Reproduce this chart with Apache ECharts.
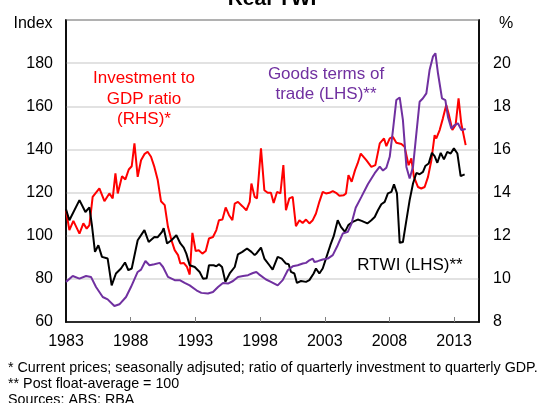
<!DOCTYPE html>
<html>
<head>
<meta charset="utf-8">
<script src="https://cdn.jsdelivr.net/npm/echarts@6/dist/echarts.min.js"></script>
<style>
  html, body { margin: 0; padding: 0; background: #fff; }
  #chart { width: 541px; height: 403px; }
</style>
</head>
<body>
<div id="chart"></div>
<script>
// x ticks / labels (years)
const yearLabels = [1983, 1988, 1993, 1998, 2003, 2008, 2013];
const yearTicks = [1988, 1993, 1998, 2003, 2008, 2013];

// Real TWI (LHS, index) - [year, value]
const rtwi = [
  [1983.0, 112.2], [1983.26, 107.2], [1984.04, 116.5], [1984.5, 111.0], [1984.81, 113.1],
  [1985.0, 105.0], [1985.24, 92.5], [1985.5, 95.6], [1985.78, 90.2], [1986.22, 89.4],
  [1986.53, 77.0], [1986.86, 82.5], [1987.25, 84.8], [1987.56, 87.6], [1987.82, 84.0],
  [1988.08, 84.8], [1988.54, 97.9], [1989.06, 102.6], [1989.39, 97.1], [1989.83, 99.4],
  [1990.09, 99.3], [1990.42, 101.8], [1990.55, 103.5], [1990.81, 96.4], [1991.15, 97.9],
  [1991.53, 100.2], [1991.84, 96.4], [1992.1, 94.5], [1992.3, 91.7], [1992.56, 86.3],
  [1992.95, 85.5], [1993.33, 83.2], [1993.59, 80.1], [1993.87, 80.3], [1994.05, 86.3],
  [1994.41, 86.3], [1994.62, 85.8], [1994.82, 86.8], [1995.06, 85.5], [1995.32, 78.6],
  [1995.65, 82.5], [1996.04, 85.5], [1996.29, 91.4], [1996.63, 92.5], [1996.99, 94.1],
  [1997.33, 92.5], [1997.58, 91.0], [1997.74, 91.9], [1998.07, 94.5], [1998.33, 89.4],
  [1998.72, 86.3], [1998.97, 84.3], [1999.36, 90.2], [1999.67, 89.4], [2000.0, 87.1],
  [2000.21, 86.8], [2000.39, 83.2], [2000.65, 82.5], [2000.85, 78.1], [2001.16, 79.0],
  [2001.55, 78.6], [2001.81, 79.4], [2002.14, 82.5], [2002.32, 84.8], [2002.58, 82.5],
  [2002.84, 84.8], [2003.09, 89.4], [2003.43, 95.6], [2003.69, 99.8], [2004.0, 107.2],
  [2004.25, 104.1], [2004.56, 101.8], [2004.82, 104.9], [2005.16, 106.4], [2005.55, 107.5],
  [2005.85, 106.9], [2006.29, 105.7], [2006.6, 107.2], [2006.86, 108.7], [2007.11, 111.8],
  [2007.37, 114.6], [2007.63, 115.7], [2007.88, 119.6], [2008.15, 120.3], [2008.35, 123.8],
  [2008.58, 119.6], [2008.79, 96.7], [2009.04, 97.1], [2009.31, 107.2], [2009.56, 116.5],
  [2009.82, 124.2], [2010.08, 129.1], [2010.33, 128.5], [2010.59, 129.6], [2010.77, 132.3],
  [2011.03, 133.5], [2011.28, 138.4], [2011.49, 136.9], [2011.7, 133.8], [2011.96, 138.4],
  [2012.21, 135.4], [2012.47, 138.9], [2012.73, 138.1], [2012.98, 140.5], [2013.25, 138.1],
  [2013.5, 127.6], [2013.81, 128.4]
];

// Goods terms of trade (LHS, index)
const termsOfTrade = [
  [1983.0, 78.6], [1983.52, 81.3], [1984.04, 80.1], [1984.55, 81.3], [1984.93, 80.9],
  [1985.32, 76.2], [1985.84, 71.6], [1986.22, 70.5], [1986.74, 67.4], [1987.13, 68.2],
  [1987.64, 71.6], [1988.02, 76.2], [1988.54, 83.2], [1988.8, 84.3], [1989.14, 88.3],
  [1989.45, 86.3], [1989.83, 86.8], [1990.24, 87.4], [1990.5, 85.5], [1990.88, 80.9],
  [1991.4, 79.4], [1991.79, 79.4], [1992.17, 78.1], [1992.56, 77.0], [1993.08, 74.7],
  [1993.46, 73.5], [1993.97, 73.2], [1994.36, 73.9], [1994.75, 76.2], [1995.13, 78.1],
  [1995.52, 77.8], [1995.91, 79.0], [1996.29, 80.9], [1996.68, 81.3], [1997.07, 81.7],
  [1997.45, 82.7], [1997.71, 83.2], [1997.92, 82.1], [1998.07, 81.7], [1998.46, 79.7],
  [1998.84, 78.6], [1999.36, 77.0], [1999.75, 79.4], [2000.14, 84.0], [2000.52, 85.8],
  [2000.91, 86.3], [2001.3, 87.1], [2001.55, 87.4], [2001.81, 88.6], [2002.07, 89.4],
  [2002.2, 87.8], [2002.45, 88.2], [2002.84, 89.0], [2003.23, 89.4], [2003.62, 91.0],
  [2004.0, 95.6], [2004.39, 101.0], [2004.78, 101.8], [2005.06, 105.5], [2005.39, 113.0],
  [2005.83, 118.0], [2006.34, 124.0], [2006.86, 129.0], [2007.25, 132.0], [2007.5, 130.2],
  [2007.76, 131.5], [2008.02, 136.6], [2008.27, 149.0], [2008.53, 162.9], [2008.79, 164.1],
  [2009.04, 153.6], [2009.31, 131.9], [2009.56, 126.5], [2009.82, 131.9], [2010.08, 147.4],
  [2010.33, 162.1], [2010.59, 163.7], [2010.85, 166.0], [2011.1, 176.8], [2011.36, 183.0],
  [2011.55, 184.6], [2011.75, 175.3], [2012.06, 163.7], [2012.32, 162.9], [2012.52, 155.1],
  [2012.78, 149.7], [2013.04, 151.3], [2013.29, 152.1], [2013.56, 149.0], [2013.89, 149.5]
];

// Investment to GDP ratio (RHS, per cent)
const investRatio = [
  [1983.0, 13.18], [1983.26, 12.26], [1983.57, 12.69], [1984.04, 12.10], [1984.34, 12.57],
  [1984.6, 12.33], [1984.81, 12.49], [1985.06, 13.80], [1985.58, 14.19], [1985.97, 13.60],
  [1986.35, 13.96], [1986.61, 13.73], [1986.82, 14.89], [1987.0, 13.96], [1987.33, 14.76],
  [1987.59, 14.61], [1987.85, 15.07], [1988.08, 15.22], [1988.29, 16.28], [1988.54, 14.73],
  [1988.8, 15.50], [1989.06, 15.78], [1989.31, 15.89], [1989.57, 15.66], [1989.83, 15.19],
  [1990.09, 14.58], [1990.34, 13.6], [1990.63, 13.42], [1990.88, 12.41], [1991.15, 11.79],
  [1991.4, 11.33], [1991.66, 11.1], [1991.84, 10.71], [1992.1, 10.74], [1992.35, 10.55],
  [1992.56, 10.2], [1992.77, 12.13], [1993.02, 11.29], [1993.26, 11.33], [1993.54, 11.17],
  [1993.8, 11.29], [1994.05, 11.87], [1994.36, 11.94], [1994.62, 12.26], [1994.82, 12.72],
  [1995.09, 12.75], [1995.34, 13.31], [1995.6, 12.95], [1995.86, 12.72], [1996.04, 13.49],
  [1996.29, 13.57], [1996.63, 13.37], [1996.94, 13.18], [1997.2, 13.57], [1997.33, 14.42],
  [1997.58, 13.8], [1997.76, 13.73], [1998.07, 16.05], [1998.33, 14.11], [1998.59, 13.99],
  [1998.84, 13.99], [1999.05, 13.52], [1999.31, 14.03], [1999.57, 13.96], [1999.8, 15.27],
  [2000.0, 13.18], [2000.26, 13.73], [2000.52, 13.8], [2000.77, 12.44], [2001.04, 12.72],
  [2001.29, 12.59], [2001.55, 12.75], [2001.81, 12.57], [2002.07, 12.72], [2002.32, 13.03],
  [2002.58, 13.57], [2002.84, 14.03], [2003.09, 13.96], [2003.36, 13.99], [2003.62, 14.07],
  [2003.87, 13.99], [2004.13, 13.85], [2004.47, 13.88], [2004.64, 13.96], [2004.83, 14.81],
  [2005.08, 14.50], [2005.34, 15.04], [2005.54, 15.35], [2005.78, 15.81], [2006.21, 15.50],
  [2006.6, 15.19], [2006.91, 15.27], [2007.25, 16.28], [2007.58, 16.51], [2007.76, 16.15],
  [2008.02, 16.51], [2008.27, 16.58], [2008.53, 16.31], [2008.92, 16.25], [2009.17, 16.12],
  [2009.48, 15.27], [2009.69, 15.58], [2009.89, 14.73], [2010.2, 14.26], [2010.46, 14.19],
  [2010.72, 14.26], [2010.98, 14.73], [2011.24, 15.5], [2011.49, 16.66], [2011.62, 16.51],
  [2011.88, 16.9], [2012.13, 17.44], [2012.39, 18.06], [2012.6, 17.59], [2012.86, 16.9],
  [2013.11, 17.13], [2013.34, 18.37], [2013.55, 17.2], [2013.89, 16.2]
];

const FONT = "'Liberation Sans', Arial, sans-serif";
const PURPLE = '#7030A0';

const chart = echarts.init(document.getElementById('chart'), null, { renderer: 'canvas' });

const option = {
  animation: false,
  backgroundColor: '#fff',
  textStyle: { fontFamily: FONT },
  grid: {
    left: 66, right: 62, top: 20, bottom: 81,
    show: true, borderColor: '#000', borderWidth: 1.5, backgroundColor: 'transparent'
  },
  xAxis: {
    type: 'value',
    min: 1983,
    max: 2014.92,
    splitLine: { show: false },
    axisLine: { onZero: false, lineStyle: { color: '#000', width: 1.5 } },
    axisTick: { show: true, inside: true, length: 5, customValues: yearTicks, lineStyle: { color: '#808080', width: 1 } },
    axisLabel: {
      customValues: yearLabels, color: '#000', fontSize: 16, fontFamily: FONT, margin: 12,
      formatter: v => String(Math.round(v))
    }
  },
  yAxis: [
    {
      type: 'value', min: 60, max: 200, interval: 20, position: 'left',
      axisLine: { show: true, lineStyle: { color: '#000', width: 1.5 } },
      axisTick: { show: false },
      axisLabel: { showMaxLabel: false, color: '#000', fontSize: 16, fontFamily: FONT, margin: 13 },
      splitLine: { show: true, lineStyle: { color: '#d9d9d9', width: 1.5 } }
    },
    {
      type: 'value', min: 8, max: 22, interval: 2, position: 'right',
      axisLine: { show: true, lineStyle: { color: '#000', width: 1.5 } },
      axisTick: { show: false },
      axisLabel: { showMaxLabel: false, color: '#000', fontSize: 16, fontFamily: FONT, margin: 14 },
      splitLine: { show: false }
    }
  ],
  series: [
    {
      name: 'Investment to GDP ratio', type: 'line', yAxisIndex: 1, data: investRatio,
      showSymbol: false, lineStyle: { color: '#ff0000', width: 2 }, z: 2
    },
    {
      name: 'RTWI', type: 'line', yAxisIndex: 0, data: rtwi,
      showSymbol: false, lineStyle: { color: '#000', width: 2 }, z: 3
    },
    {
      name: 'Goods terms of trade', type: 'line', yAxisIndex: 0, data: termsOfTrade,
      showSymbol: false, lineStyle: { color: PURPLE, width: 2 }, z: 4
    }
  ],
  graphic: [
    // title, cut off at top like the source image
    { type: 'text', x: 272, y: 10, style: { text: 'Real TWI', font: 'bold 21px ' + FONT, fill: '#000', textAlign: 'center', textVerticalAlign: 'bottom' } },
    { type: 'text', x: 33, y: 24, style: { text: 'Index', font: '16px ' + FONT, fill: '#000', textAlign: 'center', textVerticalAlign: 'middle' } },
    { type: 'text', x: 506, y: 24, style: { text: '%', font: '16px ' + FONT, fill: '#000', textAlign: 'center', textVerticalAlign: 'middle' } },
    // series annotations
    { type: 'text', x: 144, y: 99, style: { text: 'Investment to\nGDP ratio\n(RHS)*', font: '17px ' + FONT, lineHeight: 20.5, fill: '#ff0000', textAlign: 'center', textVerticalAlign: 'middle' } },
    { type: 'text', x: 326, y: 84, style: { text: 'Goods terms of\ntrade (LHS)**', font: '17px ' + FONT, lineHeight: 20, fill: PURPLE, textAlign: 'center', textVerticalAlign: 'middle' } },
    { type: 'text', x: 410, y: 265, style: { text: 'RTWI (LHS)**', font: '17px ' + FONT, fill: '#000', textAlign: 'center', textVerticalAlign: 'middle' } },
    // footnotes
    { type: 'text', x: 8, y: 368, style: { text: '* Current prices; seasonally adjsuted; ratio of quarterly investment to quarterly GDP.', font: '14.3px ' + FONT, fill: '#000', textVerticalAlign: 'middle' } },
    { type: 'text', x: 8, y: 384, style: { text: '** Post float-average = 100', font: '14.3px ' + FONT, fill: '#000', textVerticalAlign: 'middle' } },
    { type: 'text', x: 8, y: 400, style: { text: 'Sources: ABS; RBA', font: '14.3px ' + FONT, fill: '#000', textVerticalAlign: 'middle' } }
  ]
};

chart.setOption(option);
</script>
</body>
</html>
